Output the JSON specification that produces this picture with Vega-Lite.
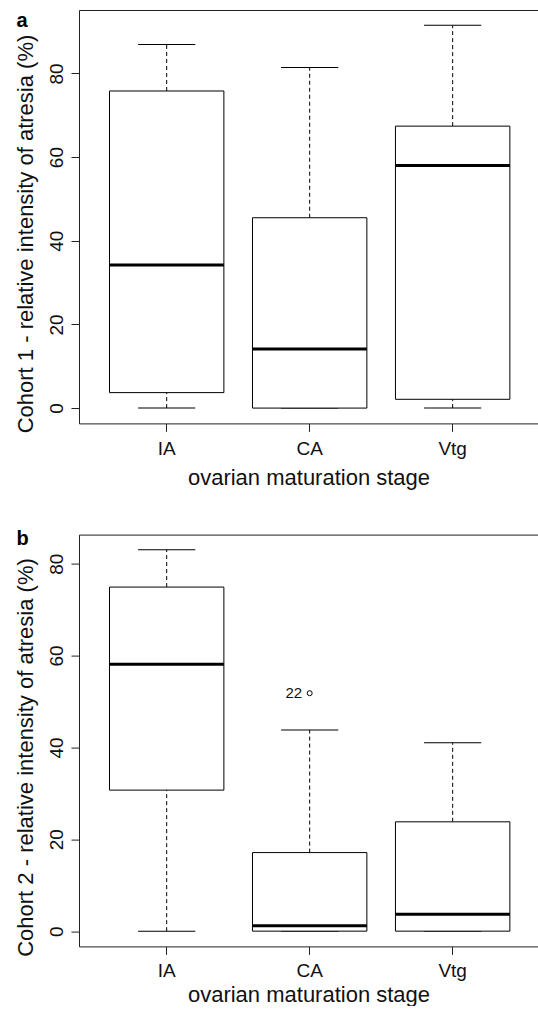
{
  "$schema": "https://vega.github.io/schema/vega-lite/v6.json",
  "padding": {"left": 13, "top": 10, "right": 0, "bottom": 0},
  "spacing": 38.6,
  "background": "white",
  "datasets": {
    "c1": [
      {"stage": "IA", "lower": 0, "q1": 3.7, "median": 34.2, "q3": 75.8, "upper": 86.9},
      {"stage": "CA", "lower": 0, "q1": 0, "median": 14.1, "q3": 45.5, "upper": 81.4},
      {"stage": "Vtg", "lower": 0, "q1": 2.1, "median": 58.0, "q3": 67.4, "upper": 91.5}
    ],
    "c2": [
      {"stage": "IA", "lower": 0, "q1": 30.7, "median": 58.1, "q3": 74.9, "upper": 83.0},
      {"stage": "CA", "lower": 0, "q1": 0, "median": 1.2, "q3": 17.1, "upper": 43.8},
      {"stage": "Vtg", "lower": 0, "q1": 0, "median": 3.7, "q3": 23.8, "upper": 41.0}
    ],
    "out2": [
      {"stage": "CA", "value": 51.8, "label": "22"}
    ]
  },
  "config": {
    "view": {"stroke": null},
    "font": "Liberation Sans",
    "tick": {"opacity": 1},
    "axis": {
      "grid": false,
      "domainColor": "#222",
      "tickColor": "#222",
      "labelColor": "#111",
      "titleColor": "#111",
      "labelFont": "Liberation Sans",
      "titleFont": "Liberation Sans",
      "labelFontSize": 19,
      "titleFontSize": 22,
      "titleFontWeight": "normal",
      "tickSize": 8,
      "domainWidth": 1,
      "tickWidth": 1
    }
  },
  "vconcat": [
    {
      "width": 459,
      "height": 413.4,
      "data": {"name": "c1"},
      "resolve": {"axis": {"x": "independent"}},
      "layer": [
        {
          "mark": {"type": "rule", "stroke": "black", "strokeWidth": 1, "strokeDash": [4, 3]},
          "encoding": {
            "x": {"field": "stage", "type": "nominal", "axis": null, "scale": {"domain": ["IA", "CA", "Vtg"], "paddingInner": 0.2, "paddingOuter": 0.205, "align": 0.52}},
            "y": {"field": "q3", "type": "quantitative", "title": "Cohort 1 - relative intensity of atresia (%)", "axis": {"orient": "left", "values": [0, 20, 40, 60, 80], "labelAngle": 270, "labelAlign": "center", "labelBaseline": "bottom", "labelPadding": 5, "titleAngle": 270, "titleAlign": "center", "titleBaseline": "bottom", "titleX": -42, "titleY": 223.5}, "scale": {"domain": [-3.66, 95.16], "nice": false, "zero": false}},
            "y2": {"field": "upper"}
          }
        },
        {
          "mark": {"type": "rule", "stroke": "black", "strokeWidth": 1, "strokeDash": [4, 3]},
          "encoding": {
            "x": {"field": "stage", "type": "nominal", "axis": null, "scale": {"domain": ["IA", "CA", "Vtg"], "paddingInner": 0.2, "paddingOuter": 0.205, "align": 0.52}},
            "y": {"field": "lower", "type": "quantitative", "scale": {"domain": [-3.66, 95.16], "nice": false, "zero": false}},
            "y2": {"field": "q1"}
          }
        },
        {
          "mark": {"type": "tick", "color": "black", "size": 57.2, "thickness": 1, "opacity": 1},
          "encoding": {
            "x": {"field": "stage", "type": "nominal", "title": "a", "axis": {"orient": "top", "labels": false, "ticks": false, "domain": true, "titleX": -63, "titleY": 16, "titleAngle": 0, "titleAlign": "left", "titleBaseline": "alphabetic", "titleFontSize": 20, "titleFontWeight": "bold", "titleColor": "black"}, "scale": {"domain": ["IA", "CA", "Vtg"], "paddingInner": 0.2, "paddingOuter": 0.205, "align": 0.52}},
            "y": {"field": "upper", "type": "quantitative", "scale": {"domain": [-3.66, 95.16], "nice": false, "zero": false}}
          }
        },
        {
          "mark": {"type": "tick", "color": "black", "size": 57.2, "thickness": 1, "opacity": 1},
          "encoding": {
            "x": {"field": "stage", "type": "nominal", "axis": null, "scale": {"domain": ["IA", "CA", "Vtg"], "paddingInner": 0.2, "paddingOuter": 0.205, "align": 0.52}},
            "y": {"field": "lower", "type": "quantitative", "scale": {"domain": [-3.66, 95.16], "nice": false, "zero": false}}
          }
        },
        {
          "mark": {"type": "bar", "fill": "white", "stroke": "black", "strokeWidth": 1},
          "encoding": {
            "x": {"field": "stage", "type": "nominal", "title": "ovarian maturation stage", "axis": {"orient": "bottom", "labelAngle": 0, "labelPadding": 8.3, "titlePadding": 9}, "scale": {"domain": ["IA", "CA", "Vtg"], "paddingInner": 0.2, "paddingOuter": 0.205, "align": 0.52}},
            "y": {"field": "q1", "type": "quantitative", "scale": {"domain": [-3.66, 95.16], "nice": false, "zero": false}},
            "y2": {"field": "q3"}
          }
        },
        {
          "mark": {"type": "tick", "color": "black", "size": 114.4, "thickness": 3, "opacity": 1},
          "encoding": {
            "x": {"field": "stage", "type": "nominal", "axis": null, "scale": {"domain": ["IA", "CA", "Vtg"], "paddingInner": 0.2, "paddingOuter": 0.205, "align": 0.52}},
            "y": {"field": "median", "type": "quantitative", "scale": {"domain": [-3.66, 95.16], "nice": false, "zero": false}}
          }
        }
      ]
    },
    {
      "width": 459,
      "height": 411.8,
      "resolve": {"axis": {"x": "independent"}},
      "layer": [
        {
          "data": {"name": "c2"},
          "mark": {"type": "rule", "stroke": "black", "strokeWidth": 1, "strokeDash": [4, 3]},
          "encoding": {
            "x": {"field": "stage", "type": "nominal", "axis": null, "scale": {"domain": ["IA", "CA", "Vtg"], "paddingInner": 0.2, "paddingOuter": 0.205, "align": 0.52}},
            "y": {"field": "q3", "type": "quantitative", "title": "Cohort 2 - relative intensity of atresia (%)", "axis": {"orient": "left", "values": [0, 20, 40, 60, 80], "labelAngle": 270, "labelAlign": "center", "labelBaseline": "bottom", "labelPadding": 5, "titleAngle": 270, "titleAlign": "center", "titleBaseline": "bottom", "titleX": -42, "titleY": 222.4}, "scale": {"domain": [-3.32, 86.32], "nice": false, "zero": false}},
            "y2": {"field": "upper"}
          }
        },
        {
          "data": {"name": "c2"},
          "mark": {"type": "rule", "stroke": "black", "strokeWidth": 1, "strokeDash": [4, 3]},
          "encoding": {
            "x": {"field": "stage", "type": "nominal", "axis": null, "scale": {"domain": ["IA", "CA", "Vtg"], "paddingInner": 0.2, "paddingOuter": 0.205, "align": 0.52}},
            "y": {"field": "lower", "type": "quantitative", "scale": {"domain": [-3.32, 86.32], "nice": false, "zero": false}},
            "y2": {"field": "q1"}
          }
        },
        {
          "data": {"name": "c2"},
          "mark": {"type": "tick", "color": "black", "size": 57.2, "thickness": 1, "opacity": 1},
          "encoding": {
            "x": {"field": "stage", "type": "nominal", "title": "b", "axis": {"orient": "top", "labels": false, "ticks": false, "domain": true, "titleX": -63, "titleY": 9.5, "titleAngle": 0, "titleAlign": "left", "titleBaseline": "alphabetic", "titleFontSize": 20, "titleFontWeight": "bold", "titleColor": "black"}, "scale": {"domain": ["IA", "CA", "Vtg"], "paddingInner": 0.2, "paddingOuter": 0.205, "align": 0.52}},
            "y": {"field": "upper", "type": "quantitative", "scale": {"domain": [-3.32, 86.32], "nice": false, "zero": false}}
          }
        },
        {
          "data": {"name": "c2"},
          "mark": {"type": "tick", "color": "black", "size": 57.2, "thickness": 1, "opacity": 1},
          "encoding": {
            "x": {"field": "stage", "type": "nominal", "axis": null, "scale": {"domain": ["IA", "CA", "Vtg"], "paddingInner": 0.2, "paddingOuter": 0.205, "align": 0.52}},
            "y": {"field": "lower", "type": "quantitative", "scale": {"domain": [-3.32, 86.32], "nice": false, "zero": false}}
          }
        },
        {
          "data": {"name": "c2"},
          "mark": {"type": "bar", "fill": "white", "stroke": "black", "strokeWidth": 1},
          "encoding": {
            "x": {"field": "stage", "type": "nominal", "title": "ovarian maturation stage", "axis": {"orient": "bottom", "labelAngle": 0, "labelPadding": 7, "titlePadding": 4.6}, "scale": {"domain": ["IA", "CA", "Vtg"], "paddingInner": 0.2, "paddingOuter": 0.205, "align": 0.52}},
            "y": {"field": "q1", "type": "quantitative", "scale": {"domain": [-3.32, 86.32], "nice": false, "zero": false}},
            "y2": {"field": "q3"}
          }
        },
        {
          "data": {"name": "c2"},
          "mark": {"type": "tick", "color": "black", "size": 114.4, "thickness": 3, "opacity": 1},
          "encoding": {
            "x": {"field": "stage", "type": "nominal", "axis": null, "scale": {"domain": ["IA", "CA", "Vtg"], "paddingInner": 0.2, "paddingOuter": 0.205, "align": 0.52}},
            "y": {"field": "median", "type": "quantitative", "scale": {"domain": [-3.32, 86.32], "nice": false, "zero": false}}
          }
        },
        {
          "data": {"name": "out2"},
          "mark": {"type": "point", "shape": "circle", "filled": false, "stroke": "black", "strokeWidth": 1, "size": 25, "opacity": 1},
          "encoding": {
            "x": {"field": "stage", "type": "nominal", "axis": null, "scale": {"domain": ["IA", "CA", "Vtg"], "paddingInner": 0.2, "paddingOuter": 0.205, "align": 0.52}},
            "y": {"field": "value", "type": "quantitative", "scale": {"domain": [-3.32, 86.32], "nice": false, "zero": false}}
          }
        },
        {
          "data": {"name": "out2"},
          "mark": {"type": "text", "align": "right", "baseline": "middle", "dx": -7.5, "fontSize": 15, "font": "Liberation Sans", "color": "#111"},
          "encoding": {
            "x": {"field": "stage", "type": "nominal", "axis": null, "scale": {"domain": ["IA", "CA", "Vtg"], "paddingInner": 0.2, "paddingOuter": 0.205, "align": 0.52}},
            "y": {"field": "value", "type": "quantitative", "scale": {"domain": [-3.32, 86.32], "nice": false, "zero": false}},
            "text": {"field": "label"}
          }
        }
      ]
    }
  ]
}
